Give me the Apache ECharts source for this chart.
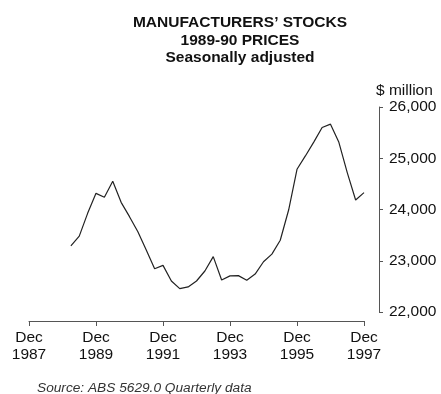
<!DOCTYPE html>
<html>
<head>
<meta charset="utf-8">
<script src="https://cdn.jsdelivr.net/npm/echarts@6/dist/echarts.min.js"></script>
<style>html,body{margin:0;padding:0;background:#fff;}#c{width:441px;height:394px;}</style>
</head>
<body>
<div id="c"></div>
<script>
var titleLines = ["MANUFACTURERS\u2019 STOCKS", "1989-90 PRICES", "Seasonally adjusted"];
var unitLabel = "$ million";
var sourceText = "Source: ABS 5629.0 Quarterly data";

// Quarterly categories, Dec 1987 .. Dec 1997
var quarters = [
 "Dec 1987","Mar 1988","Jun 1988","Sep 1988",
 "Dec 1988","Mar 1989","Jun 1989","Sep 1989",
 "Dec 1989","Mar 1990","Jun 1990","Sep 1990",
 "Dec 1990","Mar 1991","Jun 1991","Sep 1991",
 "Dec 1991","Mar 1992","Jun 1992","Sep 1992",
 "Dec 1992","Mar 1993","Jun 1993","Sep 1993",
 "Dec 1993","Mar 1994","Jun 1994","Sep 1994",
 "Dec 1994","Mar 1995","Jun 1995","Sep 1995",
 "Dec 1995","Mar 1996","Jun 1996","Sep 1996",
 "Dec 1996","Mar 1997","Jun 1997","Sep 1997",
 "Dec 1997"
];

// Stocks ($ million, 1989-90 prices), null before Mar 1989
var stocks = [
 null, null, null, null,
 null, 23290, 23480, 23925,
 24315, 24240, 24550, 24140,
 23860, 23565, 23210, 22845,
 22910, 22605, 22455, 22490,
 22605, 22800, 23080, 22625,
 22705, 22710, 22620, 22740,
 22980, 23130, 23400, 23990,
 24785, 25045, 25315, 25600,
 25665, 25310, 24720, 24185,
 24330
];

var yTicks = [22000, 23000, 24000, 25000, 26000];

var chart = echarts.init(document.getElementById('c'), null, {renderer: 'canvas'});
var font = 'Liberation Sans, Arial, sans-serif';
chart.setOption({
  animation: false,
  backgroundColor: '#ffffff',
  title: [{
    text: titleLines.join('\n'),
    left: 240, top: 14,
    padding: 0,
    textAlign: 'center',
    textStyle: {fontFamily: font, fontSize: 15.5, fontWeight: 'bold', color: '#111', lineHeight: 17.5}
  }, {
    text: sourceText,
    left: 37, top: 381,
    padding: 0,
    textStyle: {fontFamily: font, fontSize: 13.7, fontStyle: 'italic', fontWeight: 'normal', color: '#333', lineHeight: 14}
  }],
  grid: {left: 29, right: 77, top: 107, bottom: 82, containLabel: false},
  xAxis: {
    type: 'category',
    data: quarters,
    boundaryGap: false,
    offset: 9,
    axisLine: {show: true, lineStyle: {color: '#555', width: 1}},
    axisTick: {show: true, interval: 7, length: 5, lineStyle: {color: '#555'}},
    axisLabel: {
      interval: 7, margin: 8, color: '#111',
      fontFamily: font, fontSize: 15.5, lineHeight: 17,
      formatter: function (v) { return v.replace(' ', '\n'); }
    },
    splitLine: {show: false}
  },
  yAxis: {
    type: 'value',
    position: 'right',
    offset: 15,
    min: yTicks[0], max: yTicks[yTicks.length - 1], interval: 1000,
    name: unitLabel,
    nameLocation: 'end',
    nameGap: 8,
    nameTextStyle: {fontFamily: font, fontSize: 15.5, color: '#111', align: 'left', padding: [0, 0, 0, -3]},
    axisLine: {show: true, lineStyle: {color: '#555', width: 1}},
    axisTick: {show: true, length: 4, lineStyle: {color: '#555'}},
    axisLabel: {
      margin: 10, color: '#111', fontFamily: font, fontSize: 15.5,
      formatter: function (v) { return v.toLocaleString('en-US'); }
    },
    splitLine: {show: false}
  },
  series: [{
    type: 'line',
    data: stocks,
    showSymbol: false,
    connectNulls: false,
    lineStyle: {color: '#222', width: 1.2}
  }]
});
</script>
</body>
</html>
